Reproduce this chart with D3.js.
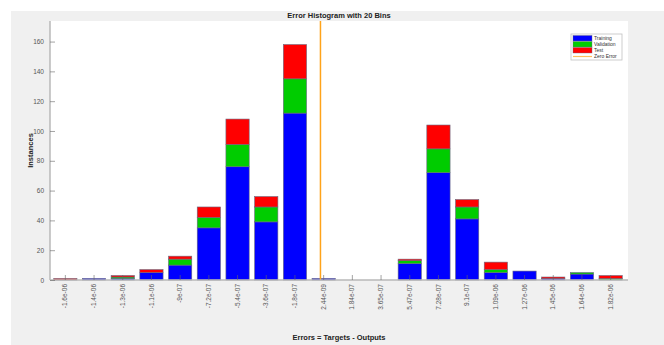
<!DOCTYPE html>
<html>
<head>
<meta charset="utf-8">
<script src="https://cdn.jsdelivr.net/npm/d3@7"></script>
<style>
  html, body { margin: 0; padding: 0; background: #ffffff; }
  svg { display: block; font-family: "Liberation Sans", Arial, sans-serif; }
</style>
</head>
<body>
<svg id="chart" width="664" height="345"></svg>
<script>
// Bin centres (error values) and their printed tick labels
const binCenters = [-1.6e-06, -1.4e-06, -1.3e-06, -1.1e-06, -9e-07, -7.2e-07, -5.4e-07, -3.6e-07, -1.8e-07, 2.44e-09,
                    1.84e-07, 3.65e-07, 5.47e-07, 7.28e-07, 9.1e-07, 1.09e-06, 1.27e-06, 1.45e-06, 1.64e-06, 1.82e-06];
const tickLabels = ["-1.6e-06", "-1.4e-06", "-1.3e-06", "-1.1e-06", "-9e-07", "-7.2e-07", "-5.4e-07", "-3.6e-07", "-1.8e-07", "2.44e-09",
                    "1.84e-07", "3.65e-07", "5.47e-07", "7.28e-07", "9.1e-07", "1.09e-06", "1.27e-06", "1.45e-06", "1.64e-06", "1.82e-06"];
// Instance counts per bin
const training   = [0, 1, 1, 5, 10, 35, 76, 39, 112, 1, 0, 0, 11, 72, 41, 5, 6, 1, 4, 0];
const validation = [0, 0, 1, 0,  4,  7, 15, 10,  23, 0, 0, 0,  2, 16,  8, 2, 0, 0, 1, 1];
const test       = [1, 0, 1, 2,  2,  7, 17,  7,  23, 0, 0, 0,  1, 16,  5, 5, 0, 1, 0, 2];
const yTicks = [0, 20, 40, 60, 80, 100, 120, 140, 160];
const seriesNames = ["Training", "Validation", "Test"];
const seriesColors = ["#0000ff", "#00cc00", "#ff0000"];
const zeroColor = "#ffa31a";

const svg = d3.select("#chart");
const W = 664, H = 345;
const plot = { left: 50, right: 628, top: 21, bottom: 280 };

// figure background
svg.append("rect").attr("x", 11).attr("y", 11).attr("width", W - 11).attr("height", H - 11).attr("fill", "#f0f0f0");
svg.append("rect").attr("x", plot.left).attr("y", plot.top)
  .attr("width", plot.right - plot.left).attr("height", plot.bottom - plot.top).attr("fill", "#ffffff");

const x = d3.scaleBand().domain(d3.range(binCenters.length)).range([51, 625]).paddingInner(0.19).paddingOuter(0.095);
const totals = training.map((t, i) => t + validation[i] + test[i]);
const y = d3.scaleLinear().domain([0, d3.max(totals) * 1.1]).range([plot.bottom, plot.top]);

// stacked bars
const rows = binCenters.map((c, i) => ({ i, Training: training[i], Validation: validation[i], Test: test[i] }));
const stacked = d3.stack().keys(seriesNames)(rows);
stacked.forEach((layer, k) => {
  svg.append("g").selectAll("rect")
    .data(layer.filter(d => d[1] > d[0]))
    .join("rect")
    .attr("x", d => x(d.data.i))
    .attr("width", x.bandwidth())
    .attr("y", d => y(d[1]))
    .attr("height", d => y(d[0]) - y(d[1]))
    .attr("fill", seriesColors[k])
    .attr("stroke", "#6a6a80")
    .attr("stroke-width", 0.6);
});

// zero error line on a linear error axis through the bin centres
const xErr = d3.scaleLinear()
  .domain([binCenters[0], binCenters[binCenters.length - 1]])
  .range([x(0) + x.bandwidth() / 2, x(binCenters.length - 1) + x.bandwidth() / 2]);
svg.append("line")
  .attr("x1", xErr(0)).attr("x2", xErr(0))
  .attr("y1", plot.top).attr("y2", plot.bottom)
  .attr("stroke", zeroColor).attr("stroke-width", 1.5);

// axes (ticks point inward)
const axisColor = "#b8b8b8";
const tickText = "#555555";
const xAxis = svg.append("g").attr("transform", `translate(0,${plot.bottom})`)
  .call(d3.axisBottom(x).tickFormat(i => tickLabels[i]).tickSizeInner(-5).tickSizeOuter(0));
xAxis.select(".domain").attr("stroke", axisColor).attr("stroke-width", 1.5)
  .attr("d", `M${plot.left},0H${plot.right}`);
xAxis.selectAll(".tick line").attr("stroke", "#666").attr("stroke-width", 0.6);
xAxis.selectAll(".tick text")
  .attr("fill", tickText).attr("font-size", 6.5)
  .attr("transform", "rotate(-90)")
  .attr("text-anchor", "end")
  .attr("x", -4).attr("y", 0).attr("dy", "0.32em");

const yAxis = svg.append("g").attr("transform", `translate(${plot.left},0)`)
  .call(d3.axisLeft(y).tickValues(yTicks).tickSizeInner(-5).tickSizeOuter(0).tickPadding(6));
yAxis.select(".domain").attr("stroke", axisColor).attr("stroke-width", 1.5)
  .attr("d", `M0,${plot.top}V${plot.bottom}`);
yAxis.selectAll(".tick line").attr("stroke", "#666").attr("stroke-width", 0.6);
yAxis.selectAll(".tick text").attr("fill", tickText).attr("font-size", 6.5);

// title and axis labels
svg.append("text").attr("x", (plot.left + plot.right) / 2).attr("y", 18)
  .attr("text-anchor", "middle").attr("font-size", 7.5).attr("font-weight", "bold").attr("fill", "#222")
  .text("Error Histogram with 20 Bins");
svg.append("text").attr("x", (plot.left + plot.right) / 2).attr("y", 340)
  .attr("text-anchor", "middle").attr("font-size", 7.5).attr("font-weight", "bold").attr("fill", "#222")
  .text("Errors = Targets - Outputs");
svg.append("text").attr("transform", `translate(33,150.5) rotate(-90)`)
  .attr("text-anchor", "middle").attr("font-size", 7.5).attr("font-weight", "bold").attr("fill", "#222")
  .text("Instances");

// legend
const lg = svg.append("g").attr("transform", "translate(571,34)");
lg.append("rect").attr("width", 51).attr("height", 26).attr("fill", "#fff").attr("stroke", "#c0c0c0").attr("stroke-width", 0.8);
seriesNames.forEach((name, k) => {
  lg.append("rect").attr("x", 2).attr("y", 1.5 + k * 6).attr("width", 19).attr("height", 5.5)
    .attr("fill", seriesColors[k]).attr("stroke", "#6a6a80").attr("stroke-width", 0.4);
  lg.append("text").attr("x", 23).attr("y", 4.5 + k * 6).attr("dy", "0.32em")
    .attr("font-size", 5).attr("fill", "#333").text(name);
});
lg.append("line").attr("x1", 2).attr("x2", 21).attr("y1", 22.5).attr("y2", 22.5)
  .attr("stroke", zeroColor).attr("stroke-width", 1.2).attr("opacity", 0.7);
lg.append("text").attr("x", 23).attr("y", 22.5).attr("dy", "0.32em")
  .attr("font-size", 5).attr("fill", "#333").text("Zero Error");
</script>
</body>
</html>
